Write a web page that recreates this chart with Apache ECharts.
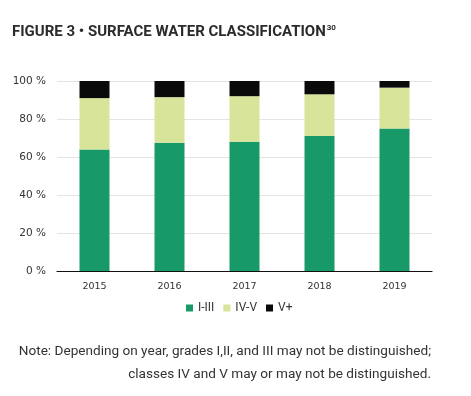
<!DOCTYPE html>
<html>
<head>
<meta charset="utf-8">
<script src="https://cdn.jsdelivr.net/npm/echarts@6/dist/echarts.min.js"></script>
<style>
  html, body { margin: 0; padding: 0; background: #fff; }
  #chart { width: 471px; height: 396px; }
</style>
</head>
<body>
<div id="chart"></div>
<script>
// 数据
const years = ['2015', '2016', '2017', '2018', '2019'];
const classI_III = [64, 67.5, 68, 71, 75];
const classIV_V = [27, 24, 24, 22, 21.5];
const classVplus = [9, 8.5, 8, 7, 3.5];
const yTicks = [0, 20, 40, 60, 80, 100];
const noteLines = [
  'Note: Depending on year, grades I,II, and III may not be distinguished;',
  'classes IV and V may or may not be distinguished.'
];

const chart = echarts.init(document.getElementById('chart'));

const option = {
  animation: false,
  title: {
    text: 'FIGURE 3 • SURFACE WATER CLASSIFICATION{sup|30}',
    left: 12,
    top: 24,
    padding: 0,
    textStyle: {
      fontFamily: 'Roboto',
      fontWeight: 'bold',
      fontSize: 15,
      color: '#2b2b2b',
      rich: {
        sup: { fontFamily: 'Roboto', fontSize: 8, fontWeight: 'bold', color: '#2b2b2b', verticalAlign: 'top', padding: [0, 0, 9, 1] }
      }
    }
  },
  legend: {
    data: ['I-III', 'IV-V', 'V+'],
    left: 181,
    top: 297,
    itemWidth: 7,
    itemHeight: 7,
    itemGap: 9,
    icon: 'rect',
    textStyle: { fontFamily: 'Roboto', fontSize: 12, color: '#333' }
  },
  grid: { left: 57, right: 39, top: 81, bottom: 125 },
  xAxis: {
    type: 'category',
    data: years,
    axisTick: { show: false },
    axisLine: { lineStyle: { color: '#111', width: 1.2 } },
    axisLabel: { fontFamily: '"DejaVu Sans"', fontSize: 9.5, color: '#333', margin: 11 }
  },
  yAxis: {
    type: 'value',
    min: 0,
    max: 100,
    interval: 20,
    axisLabel: {
      fontFamily: '"DejaVu Sans"', fontSize: 10.5, color: '#333', margin: 11,
      formatter: function (v) { return yTicks.indexOf(v) > -1 ? v + ' %' : ''; }
    },
    splitLine: { lineStyle: { color: '#e4e4e4' } }
  },
  series: [
    { name: 'I-III', type: 'bar', stack: 'a', barWidth: 30, data: classI_III, itemStyle: { color: '#189a68' } },
    { name: 'IV-V', type: 'bar', stack: 'a', data: classIV_V, itemStyle: { color: '#d8e49a' } },
    { name: 'V+', type: 'bar', stack: 'a', data: classVplus, itemStyle: { color: '#0a0a0a' } }
  ],
  graphic: noteLines.map(function (line, i) {
    return {
      type: 'text', right: 40, top: 345 + i * 22.5,
      style: { text: line, font: '13.6px Roboto', fill: '#333' }
    };
  })
};

chart.setOption(option);
</script>
</body>
</html>
